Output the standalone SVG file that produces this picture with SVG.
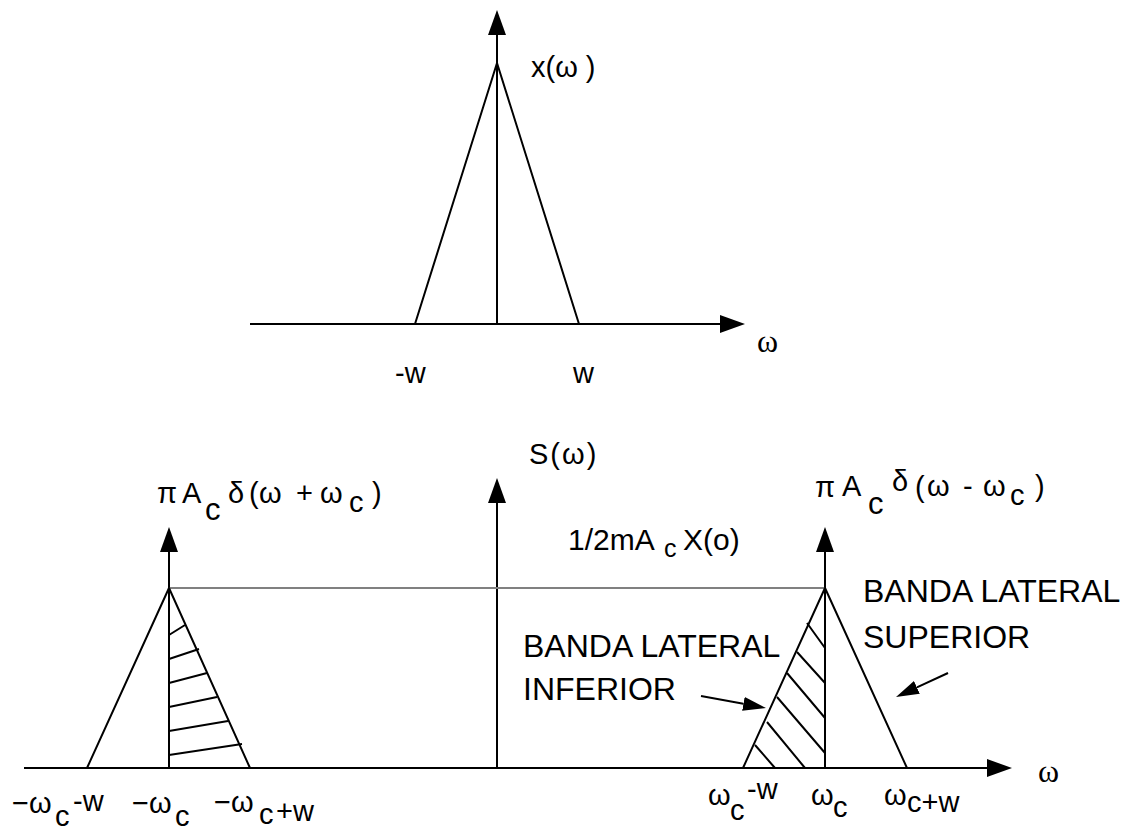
<svg xmlns="http://www.w3.org/2000/svg" width="1128" height="830" viewBox="0 0 1128 830">
<style>
.ln{stroke:#000;stroke-width:2;fill:none}
.gr{stroke:#808080;stroke-width:2;fill:none}
.t{font-family:"Liberation Sans",Arial,sans-serif;font-size:29px;fill:#000}
.b{font-family:"Liberation Sans",Arial,sans-serif;font-size:32px;fill:#000}
.s{font-family:"Liberation Serif","Times New Roman",serif;font-size:32px;fill:#000}
</style>
<defs>
<marker id="ax" markerUnits="userSpaceOnUse" markerWidth="26" markerHeight="18" refX="0" refY="9" orient="auto"><path d="M0,0 L25,9 L0,18 z" fill="#000"/></marker>
<marker id="sm" markerUnits="userSpaceOnUse" markerWidth="24" markerHeight="14" refX="0" refY="7" orient="auto"><path d="M0,0 L23,7 L0,14 z" fill="#000"/></marker>
</defs>
<rect width="1128" height="830" fill="#fff"/>

<g id="connectors">
<line class="ln" x1="497" y1="324" x2="497" y2="35" marker-end="url(#ax)"/>
<line class="ln" x1="250" y1="324" x2="720" y2="324" marker-end="url(#ax)"/>
<line class="ln" x1="24" y1="768" x2="987" y2="768" marker-end="url(#ax)"/>
<line class="ln" x1="497" y1="768" x2="497" y2="503" marker-end="url(#ax)"/>
<line class="ln" x1="169" y1="768" x2="169" y2="552" marker-end="url(#ax)"/>
<line class="ln" x1="825" y1="768" x2="825" y2="552" marker-end="url(#ax)"/>
<line class="ln" x1="701" y1="696" x2="743.4" y2="703.8" marker-end="url(#sm)"/>
<line class="ln" x1="948" y1="673" x2="916.9" y2="687.4" marker-end="url(#sm)"/>
</g>

<g id="top-spectrum">
<polyline class="ln" points="415,324 497,63 579,324"/>
<text class="t" x="531" y="77" font-size="31">x(ω )</text>
<text class="t" x="395" y="383">-w</text>
<text class="t" x="573" y="383">w</text>
<text class="s" x="757" y="352">ω</text>
</g>

<g id="level-line">
<line class="gr" x1="169" y1="588" x2="825" y2="588"/>
<text class="t" x="529" y="464" letter-spacing="2">S(ω)</text>
<text class="t"><tspan x="568" y="550" font-size="30">1/2mA</tspan><tspan x="664" y="557" font-size="25">c</tspan><tspan x="683" y="550" font-size="30">X(o)</tspan></text>
</g>

<g id="left-band">
<polyline class="ln" points="87,768 169,588 250,768"/>
<path class="ln" d="M169,635 L185,625 M169,659 L199,649 M169,683 L207,673 M169,707 L217,697 M169,731 L228,721 M169,755 L242,744"/>
<text class="t" font-size="30"><tspan x="157" y="503">π</tspan><tspan x="182" y="503">A</tspan><tspan x="205" y="520" font-size="31">c</tspan><tspan x="228" y="503">δ</tspan><tspan x="249" y="503">(</tspan><tspan x="259" y="503">ω</tspan><tspan x="296" y="503">+</tspan><tspan x="320" y="503">ω</tspan><tspan x="349" y="512">c</tspan><tspan x="372" y="503">)</tspan></text>
<text class="t"><tspan x="12" y="813">−ω</tspan><tspan x="55" y="826">c</tspan><tspan x="73" y="811">-w</tspan></text>
<text class="t"><tspan x="132" y="813">−ω</tspan><tspan x="175" y="826">c</tspan></text>
<text class="t"><tspan x="214" y="812">−ω</tspan><tspan x="259" y="824">c</tspan><tspan x="276" y="821">+w</tspan></text>
</g>

<g id="right-band">
<polyline class="ln" points="743,768 825,588 907,768"/>
<path class="ln" d="M807,623 L825,648 M797,652 L825,683 M787,673 L825,718 M777,697 L825,753 M767,722 L805,768 M755,745 L775,768"/>
<text class="t" font-size="30"><tspan x="815" y="497">π</tspan><tspan x="842" y="496">A</tspan><tspan x="868" y="514" font-size="31">c</tspan><tspan x="892" y="491">δ</tspan><tspan x="915" y="497">(</tspan><tspan x="927" y="496">ω</tspan><tspan x="963" y="496">-</tspan><tspan x="983" y="496">ω</tspan><tspan x="1010" y="505">c</tspan><tspan x="1035" y="496">)</tspan></text>
<text class="t"><tspan x="708" y="805">ω</tspan><tspan x="730" y="820">c</tspan><tspan x="747" y="799">-w</tspan></text>
<text class="t"><tspan x="811" y="805">ω</tspan><tspan x="833" y="817">c</tspan></text>
<text class="t"><tspan x="884" y="805">ω</tspan><tspan x="907" y="812">c+w</tspan></text>
<text class="s" x="1038" y="782">ω</text>
</g>

<g id="label-inferior">
<text class="b" x="523" y="657">BANDA LATERAL</text>
<text class="b" x="523" y="700">INFERIOR</text>
</g>
<g id="label-superior">
<text class="b" x="863" y="602">BANDA LATERAL</text>
<text class="b" x="863" y="648">SUPERIOR</text>
</g>
</svg>
